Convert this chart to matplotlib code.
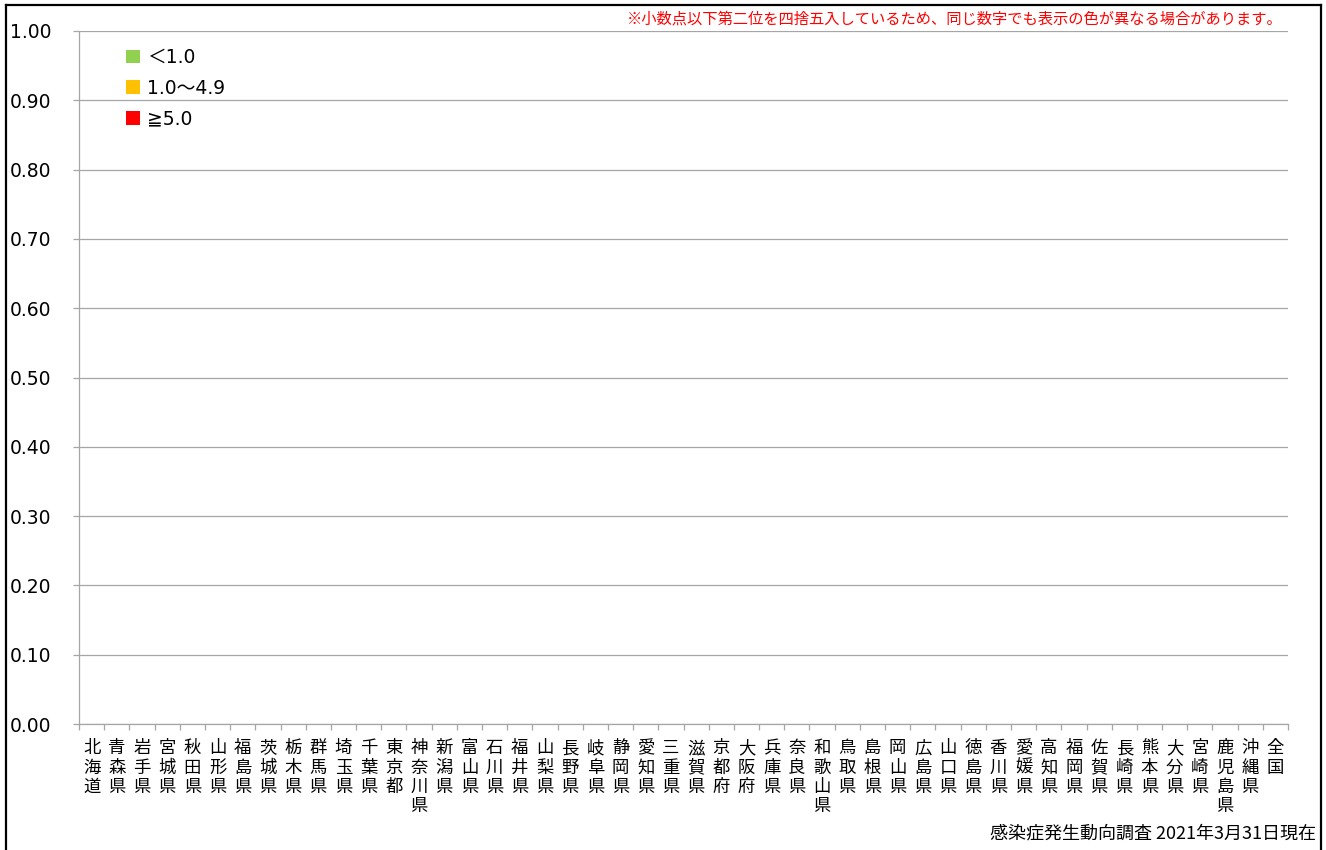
import matplotlib
matplotlib.use("Agg")
import matplotlib.pyplot as plt
from matplotlib.patches import Patch
from matplotlib.lines import Line2D
import numpy as np

plt.rcParams['font.family'] = ['DejaVu Sans', 'Noto Sans CJK JP']

prefectures = ["北海道", "青森県", "岩手県", "宮城県", "秋田県", "山形県", "福島県", "茨城県",
               "栃木県", "群馬県", "埼玉県", "千葉県", "東京都", "神奈川県", "新潟県", "富山県",
               "石川県", "福井県", "山梨県", "長野県", "岐阜県", "静岡県", "愛知県", "三重県",
               "滋賀県", "京都府", "大阪府", "兵庫県", "奈良県", "和歌山県", "鳥取県", "島根県",
               "岡山県", "広島県", "山口県", "徳島県", "香川県", "愛媛県", "高知県", "福岡県",
               "佐賀県", "長崎県", "熊本県", "大分県", "宮崎県", "鹿児島県", "沖縄県", "全国"]
values = [0.0] * len(prefectures)

legend_labels = ["＜1.0", "1.0～4.9", "≧5.0"]
legend_colors = ["#92D050", "#FFC000", "#FF0000"]
y_ticks = [0.0, 0.1, 0.2, 0.3, 0.4, 0.5, 0.6, 0.7, 0.8, 0.9, 1.0]

note_text = "※小数点以下第二位を四捨五入しているため、同じ数字でも表示の色が異なる場合があります。"
source_text = "感染症発生動向調査 2021年3月31日現在"

W, H = 1326, 850
fig = plt.figure(figsize=(W / 100, H / 100), dpi=100)
ax = fig.add_axes([79 / W, 1 - 724 / H, (1288 - 79) / W, (724 - 31) / H])

x = np.arange(len(prefectures))
vals = np.array(values)
bar_colors = [legend_colors[0] if v < 1.0 else (legend_colors[1] if v < 5.0 else legend_colors[2]) for v in vals]
ax.bar(x, vals, width=0.6, color=bar_colors, zorder=3)

grid_c = "#A6A6A6"
ax.set_xlim(-0.5, len(prefectures) - 0.5)
ax.set_ylim(0, 1.0)
ax.set_yticks(y_ticks)
ax.set_yticklabels([f"{v:.2f}" for v in y_ticks])
ax.yaxis.grid(True, color=grid_c, linewidth=0.9, zorder=0)
for s in ["top", "right"]:
    ax.spines[s].set_visible(False)
for s in ["left", "bottom"]:
    ax.spines[s].set_color(grid_c)
    ax.spines[s].set_linewidth(0.9)

ax.tick_params(axis='y', length=4.3, color=grid_c, width=0.9, pad=45.4, labelsize=13.5)
for lab in ax.get_yticklabels():
    lab.set_horizontalalignment('left')

ax.set_xticks(x)
ax.set_xticklabels(["\n".join(p) for p in prefectures],
                   fontsize=12.5, family=['Noto Sans CJK JP'], linespacing=1.09, va='top')
ax.tick_params(axis='x', which='major', length=0, pad=11)
ax.set_xticks(np.arange(-0.5, len(prefectures)), minor=True)
ax.tick_params(axis='x', which='minor', length=4.3, color=grid_c, width=0.9)

handles = [Patch(facecolor=c, edgecolor='none') for c in legend_colors]
leg = ax.legend(handles, legend_labels, loc='upper left', bbox_to_anchor=(0.031, 0.989),
                frameon=False, fontsize=13.5, handlelength=0.75, handleheight=0.75,
                handletextpad=0.4, labelspacing=0.62, borderpad=0)

fig.text(1283 / W, 1 - 19 / H, note_text, color="#FF0000", fontsize=11,
         family=['Noto Sans CJK JP'], ha='right', va='center')
fig.text(1316 / W, 1 - 833 / H, source_text, color="black", fontsize=13,
         family=['Noto Sans CJK JP', 'DejaVu Sans'], ha='right', va='center')

# outer frame (left, top, right)
lw = 1.6
fig.add_artist(Line2D([6 / W, 6 / W], [0, 1 - 5 / H], transform=fig.transFigure, color='black', lw=lw))
fig.add_artist(Line2D([6 / W, 1321 / W], [1 - 5 / H, 1 - 5 / H], transform=fig.transFigure, color='black', lw=lw))
fig.add_artist(Line2D([1321 / W, 1321 / W], [0, 1 - 5 / H], transform=fig.transFigure, color='black', lw=lw))

fig.savefig("out.png", dpi=100)
